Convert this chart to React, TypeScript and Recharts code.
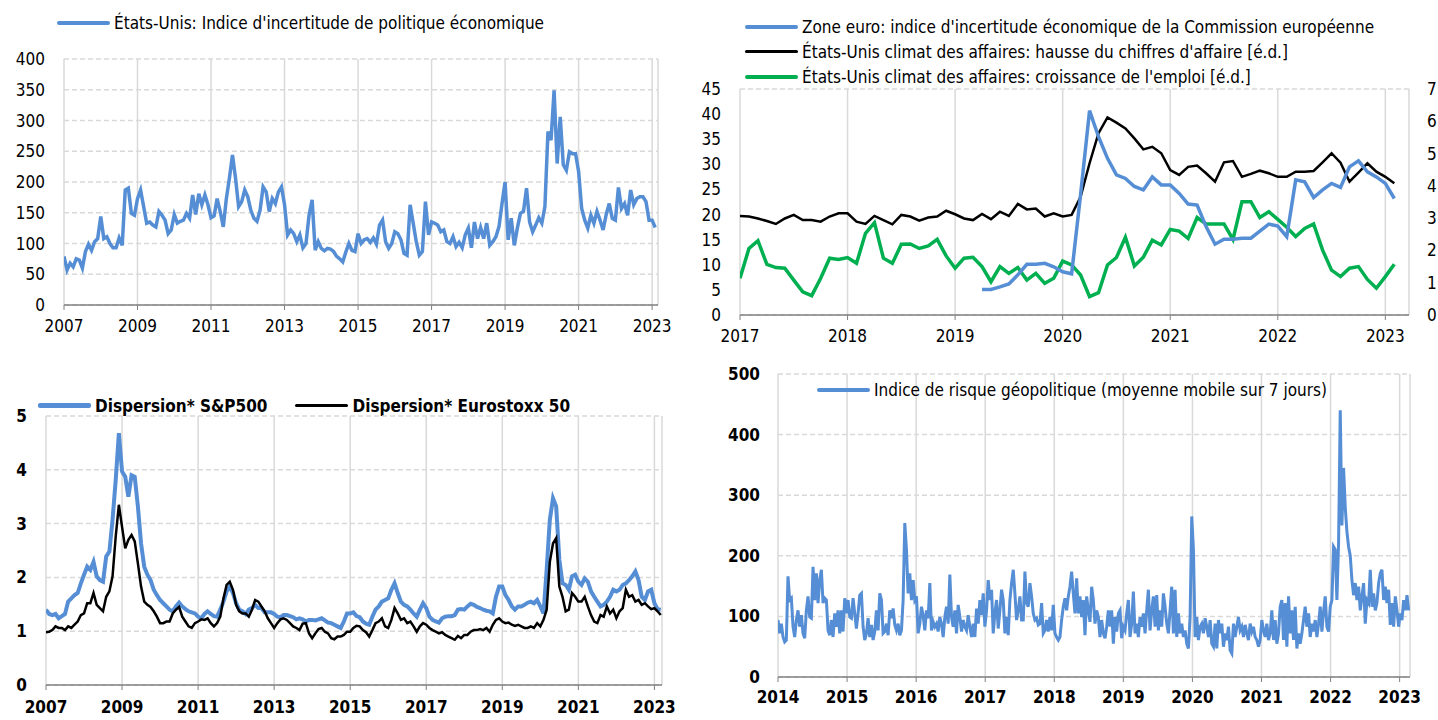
import React from 'react'
import { LineChart, Line, XAxis, YAxis, CartesianGrid } from 'recharts'

const FONT = '"Liberation Sans Narrow", "Arial Narrow", "DejaVu Sans Condensed", sans-serif'
const BLUE = '#558ED5'
const GREEN = '#00B050'
const GRID = '#D9D9D9'
const AXIS = '#808080'

// ---- top left: US economic policy uncertainty, monthly from Jan 2007
const epuValues = [
  79, 57, 68, 62, 75, 73, 60, 87, 99, 89, 103, 108,
  144, 108, 111, 100, 93, 93, 109, 97, 187, 190, 149, 146,
  173, 187, 160, 133, 135, 130, 127, 152, 146, 138, 116, 122,
  147, 133, 136, 138, 149, 141, 179, 147, 181, 163, 179, 163,
  142, 145, 173, 152, 127, 173, 206, 244, 206, 160, 168, 187,
  176, 154, 141, 136, 154, 192, 184, 152, 173, 165, 184, 192,
  163, 114, 122, 116, 103, 114, 93, 100, 146, 171, 89, 103,
  92, 88, 92, 91, 87, 79, 75, 70, 86, 100, 89, 87,
  116, 100, 106, 108, 102, 109, 99, 130, 138, 103, 92, 100,
  119, 116, 106, 84, 81, 163, 133, 103, 81, 87, 168, 114,
  135, 133, 130, 119, 122, 103, 100, 111, 95, 102, 93, 114,
  125, 93, 135, 108, 126, 108, 133, 97, 103, 111, 127, 165,
  200, 106, 141, 97, 125, 149, 152, 190, 135, 119, 130, 142,
  133, 160, 282, 268, 349, 230, 306, 228, 219, 249, 246, 246,
  217, 157, 138, 125, 146, 133, 152, 138, 122, 147, 165, 141,
  138, 191, 157, 165, 146, 187, 163, 173, 176, 176, 168, 138,
  138, 126,
]
const epuTicksX = [2007, 2009, 2011, 2013, 2015, 2017, 2019, 2021, 2023]
const epuTicksY = [0, 50, 100, 150, 200, 250, 300, 350, 400]

// ---- top right: monthly from Jan 2017
const euStart = 27 // Apr 2019
const euUncertainty = [
  5.1, 5.1, 5.6, 6.2, 8.0, 10.1, 10.1, 10.3, 9.6, 8.6, 8.2, 24, 40.7,
  35.5, 31.2, 27.9, 27.2, 25.6, 24.9, 27.5, 25.9, 25.9, 24.2, 22.1, 21.9,
  17.6, 14.1, 15.1, 15.1, 15.3, 15.3, 16.7, 18.1, 17.7, 15.6, 26.9, 26.5,
  23.4, 24.9, 26.2, 25.4, 29.5, 30.7, 28.5, 27.5, 26.2, 23.2,
]
const usTurnover = [
  3.07, 3.05, 2.99, 2.91, 2.82, 2.99, 3.10, 2.94, 2.94, 2.89, 3.05, 3.15,
  3.15, 2.89, 2.82, 3.07, 2.94, 2.81, 3.10, 3.05, 2.92, 3.02, 3.05, 3.23,
  3.12, 2.99, 2.94, 3.13, 2.97, 3.20, 3.07, 3.44, 3.27, 3.30, 3.05, 3.15,
  3.05, 3.10, 3.66, 4.70, 5.63, 6.12, 5.96, 5.78, 5.47, 5.13, 5.21, 5.01,
  4.49, 4.34, 4.59, 4.63, 4.39, 4.13, 4.73, 4.77, 4.28, 4.37, 4.47, 4.39,
  4.28, 4.28, 4.44, 4.44, 4.46, 4.73, 5.01, 4.72, 4.13, 4.41, 4.70, 4.44,
  4.28, 4.08,
]
const usEmployment = [
  1.14, 2.06, 2.30, 1.57, 1.47, 1.45, 1.08, 0.72, 0.60, 1.14, 1.76, 1.72,
  1.78, 1.60, 2.53, 2.86, 1.76, 1.60, 2.19, 2.20, 2.06, 2.14, 2.34, 1.83,
  1.45, 1.76, 1.79, 1.50, 1.03, 1.50, 1.29, 1.47, 1.08, 1.29, 0.98, 1.14,
  1.67, 1.55, 1.24, 0.57, 0.69, 1.55, 1.78, 2.41, 1.52, 1.79, 2.32, 2.17,
  2.65, 2.60, 2.37, 3.02, 2.82, 2.82, 2.82, 2.34, 3.51, 3.51, 3.02, 3.20,
  2.96, 2.72, 2.43, 2.68, 2.82, 2.01, 1.39, 1.19, 1.45, 1.50, 1.10, 0.83,
  1.19, 1.57,
]
const bizTicksX = [2017, 2018, 2019, 2020, 2021, 2022, 2023]
const bizTicksLeft = [0, 5, 10, 15, 20, 25, 30, 35, 40, 45]
const bizTicksRight = [0, 1, 2, 3, 4, 5, 6, 7]

// ---- bottom left: dispersion, monthly from Jan 2007
const dispSP500 = [
  1.40, 1.32, 1.30, 1.32, 1.24, 1.28, 1.32, 1.55, 1.61, 1.67, 1.71, 1.89,
  2.05, 2.20, 2.14, 2.29, 2.02, 1.95, 1.92, 2.39, 2.48, 3.07, 3.81, 4.68,
  3.97, 3.87, 3.50, 3.90, 3.87, 3.32, 2.63, 2.20, 2.05, 1.95, 1.77, 1.67,
  1.58, 1.52, 1.46, 1.40, 1.37, 1.46, 1.53, 1.46, 1.41, 1.37, 1.35, 1.33,
  1.27, 1.24, 1.32, 1.37, 1.32, 1.28, 1.27, 1.40, 1.55, 1.74, 1.83, 1.71,
  1.52, 1.40, 1.37, 1.32, 1.40, 1.43, 1.49, 1.43, 1.43, 1.35, 1.35, 1.35,
  1.32, 1.27, 1.26, 1.30, 1.30, 1.28, 1.26, 1.22, 1.24, 1.22, 1.18, 1.21,
  1.21, 1.20, 1.22, 1.24, 1.20, 1.16, 1.15, 1.12, 1.09, 1.06, 1.18, 1.33,
  1.33, 1.35, 1.28, 1.26, 1.18, 1.14, 1.12, 1.27, 1.40, 1.46, 1.55, 1.58,
  1.61, 1.77, 1.89, 1.71, 1.55, 1.49, 1.46, 1.40, 1.33, 1.27, 1.40, 1.52,
  1.43, 1.27, 1.21, 1.18, 1.16, 1.24, 1.27, 1.28, 1.28, 1.30, 1.40, 1.41,
  1.40, 1.46, 1.51, 1.49, 1.45, 1.43, 1.40, 1.38, 1.37, 1.33, 1.64, 1.83,
  1.83, 1.67, 1.58, 1.46, 1.40, 1.46, 1.46, 1.49, 1.53, 1.55, 1.52, 1.58,
  1.46, 1.33, 2.14, 3.07, 3.47, 3.32, 2.33, 1.89, 1.86, 1.77, 2.02, 2.05,
  1.92, 1.86, 1.98, 1.92, 1.74, 1.64, 1.55, 1.46, 1.49, 1.55, 1.64, 1.77,
  1.74, 1.77, 1.86, 1.89, 1.95, 2.02, 2.11, 1.95, 1.64, 1.58, 1.74, 1.77,
  1.52, 1.41, 1.40,
]
const dispStoxx50 = [
  0.98, 0.99, 1.02, 1.09, 1.06, 1.06, 1.02, 1.09, 1.06, 1.12, 1.18, 1.30,
  1.33, 1.52, 1.52, 1.71, 1.49, 1.43, 1.37, 1.64, 1.74, 2.02, 2.76, 3.35,
  2.94, 2.54, 2.70, 2.79, 2.67, 2.26, 1.83, 1.55, 1.49, 1.45, 1.37, 1.27,
  1.15, 1.15, 1.18, 1.18, 1.33, 1.40, 1.45, 1.27, 1.18, 1.09, 1.06, 1.15,
  1.18, 1.22, 1.21, 1.24, 1.15, 1.09, 1.15, 1.27, 1.61, 1.86, 1.92, 1.77,
  1.49, 1.37, 1.33, 1.33, 1.27, 1.40, 1.58, 1.55, 1.46, 1.37, 1.24, 1.15,
  1.06, 1.15, 1.22, 1.24, 1.21, 1.15, 1.09, 1.06, 1.02, 1.14, 1.15, 0.96,
  0.87, 0.96, 1.04, 1.06, 0.99, 0.96, 0.87, 0.85, 0.90, 0.90, 0.93, 0.99,
  0.99, 1.06, 1.10, 1.09, 1.02, 0.98, 0.90, 1.02, 1.15, 1.18, 1.24, 1.09,
  1.06, 1.21, 1.43, 1.33, 1.21, 1.24, 1.15, 1.18, 1.09, 0.99, 1.09, 1.15,
  1.12, 1.06, 1.02, 0.99, 0.96, 0.98, 0.93, 0.90, 0.87, 0.84, 0.91, 0.87,
  0.93, 0.93, 0.99, 1.02, 1.02, 1.04, 1.02, 1.06, 0.99, 1.12, 1.21, 1.24,
  1.18, 1.15, 1.16, 1.12, 1.10, 1.12, 1.09, 1.06, 1.06, 1.09, 1.06, 1.15,
  1.09, 1.21, 1.40, 2.29, 2.63, 2.73, 1.83, 1.64, 1.37, 1.40, 1.71, 1.64,
  1.55, 1.55, 1.64, 1.46, 1.30, 1.18, 1.15, 1.30, 1.27, 1.46, 1.33, 1.40,
  1.24, 1.37, 1.43, 1.77, 1.64, 1.67, 1.55, 1.58, 1.49, 1.52, 1.46, 1.41,
  1.43, 1.37, 1.30,
]
const dispTicksY = [0, 1, 2, 3, 4, 5]

// ---- bottom right: geopolitical risk index, sampled about every 9 days from Jan 2014
const gprStep = 5 / 207
const gprValues = [
  94, 72, 88, 66, 58, 61, 166, 127, 130, 83, 66, 94, 110, 83, 102, 72, 64, 110, 133, 99,
  97, 182, 127, 171, 122, 160, 177, 122, 130, 127, 77, 69, 94, 66, 105, 83, 110, 72, 110, 75,
  130, 105, 127, 99, 97, 130, 105, 80, 105, 135, 138, 83, 61, 72, 97, 66, 86, 61, 75, 110,
  77, 138, 127, 72, 75, 88, 69, 110, 97, 113, 86, 77, 88, 69, 77, 127, 254, 210, 138, 171, 127, 160,
  127, 133, 72, 88, 116, 102, 77, 110, 97, 155, 77, 91, 83, 88, 75, 99, 88, 66, 99, 116,
  88, 169, 99, 83, 110, 72, 119, 99, 75, 94, 83, 77, 102, 83, 66, 88, 66, 113, 88, 127, 102, 138,
  83, 110, 160, 127, 144, 72, 105, 127, 80, 110, 144, 127, 72, 99, 69, 127, 155, 177, 138, 94,
  110, 133, 94, 94, 174, 122, 116, 155, 133, 105, 94, 97, 86, 88, 122, 72, 77, 94, 75, 99, 77,
  119, 72, 66, 61, 66, 94, 116, 130, 110, 133, 149, 174, 138, 105, 163, 105, 133, 99, 127, 69,
  133, 110, 91, 149, 127, 88, 110,
  99, 66, 94, 72, 64, 83, 110, 83, 110, 55, 99, 75, 105, 110, 64, 83, 77, 105, 127, 66,
  88, 141, 72, 88, 66, 99, 83, 105, 72, 110, 144, 77, 110, 133, 83, 135, 77, 110, 83, 138,
  116, 88, 72, 110, 149, 72, 144, 66, 105, 72, 88, 66, 77, 55, 47, 99, 265, 210, 66, 99,
  61, 83, 88, 72, 97, 83, 66, 94, 55, 50, 88, 47, 94, 72, 88, 50, 72, 61, 83, 44,
  39, 88, 66, 83, 99, 77, 83, 66, 86, 72, 61, 88, 75, 83, 66, 61, 50, 61, 94, 77,
  66, 88, 61, 72, 110, 61, 94, 55, 72, 116, 127, 61, 122, 50, 133, 72, 110, 61, 116, 47,
  72, 55, 72, 94, 116, 83, 105, 66, 88, 75, 94, 66, 88, 116, 75, 108, 133, 83, 75, 116,
  127, 215, 210, 127, 221, 440, 250, 345, 280, 240, 215, 200, 160, 135,
  155, 127, 149, 110, 133, 155, 88, 127, 122, 177, 116, 138, 110, 122, 155, 171, 177, 127, 149, 122,
  144, 86, 122, 83, 133, 110, 83, 105, 94, 127, 110, 135, 110,
]
const gprTicksX = [2014, 2015, 2016, 2017, 2018, 2019, 2020, 2021, 2022, 2023]
const gprTicksY = [0, 100, 200, 300, 400, 500]

const epuData = epuValues.map((v, i) => ({ t: 2007 + i / 12, v }))
const bizData = usTurnover.map((ca, i) => ({
  t: 2017 + i / 12,
  ca,
  emp: usEmployment[i],
  eu: i >= euStart ? euUncertainty[i - euStart] : null,
}))
const dispData = dispSP500.map((sp, i) => ({ t: 2007 + i / 12, sp, sx: dispStoxx50[i] }))
const gprData = gprValues.map((v, i) => ({ t: 2014 + i * gprStep, v }))

type Item = { label: string; color: string; width: number }

function LegendBox({ items, bold, gap, left, top }: { items: Item[]; bold?: boolean; gap?: number; left: number; top: number }) {
  return (
    <div style={{ position: 'absolute', left, top, display: 'flex', flexDirection: gap ? 'row' : 'column', fontFamily: FONT, fontSize: 17, fontWeight: bold ? 700 : 400, color: '#000' }}>
      {items.map((it) => (
        <div key={it.label} style={{ display: 'flex', alignItems: 'center', height: 25, marginRight: gap ?? 0, whiteSpace: 'nowrap' }}>
          <span style={{ display: 'inline-block', width: 53, height: it.width, background: it.color, borderRadius: 2, marginRight: 4 }} />
          <span>{it.label}</span>
        </div>
      ))}
    </div>
  )
}

const tickStyle = (bold: boolean) => ({ fill: '#000', fontSize: 17, fontFamily: FONT, fontWeight: bold ? 700 : 400 })

function Grid() {
  return (
    <>
      <CartesianGrid horizontal={false} stroke={GRID} strokeWidth={1.5} />
      <CartesianGrid vertical={false} stroke={GRID} strokeWidth={1.5} strokeDasharray="5 3" />
    </>
  )
}

function xAxisFor(domain: number[], ticks: number[], bold: boolean, margin: number) {
  return (
    <XAxis type="number" dataKey="t" domain={domain} ticks={ticks} interval={0} allowDataOverflow height={30}
      axisLine={{ stroke: AXIS, strokeWidth: 1.5 }} tickLine={{ stroke: AXIS }} tickSize={5} tickMargin={margin} tick={tickStyle(bold)} />
  )
}

function PolicyUncertainty() {
  return (
    <div style={{ position: 'absolute', left: 0, top: 0 }}>
      <LegendBox left={57} top={10} items={[{ label: "États-Unis: Indice d'incertitude de politique économique", color: BLUE, width: 4 }]} />
      <LineChart width={680} height={350} data={epuData} margin={{ top: 59, right: 22, bottom: 15, left: 0 }}>
        {Grid()}
        {xAxisFor([2007, 2023.16], epuTicksX, false, 10)}
        <YAxis domain={[0, 400]} ticks={epuTicksY} interval={0} width={64} axisLine={false} tickLine={false} tickMargin={13} tick={tickStyle(false)} />
        <Line type="linear" dataKey="v" stroke={BLUE} strokeWidth={3.5} dot={false} isAnimationActive={false} />
      </LineChart>
    </div>
  )
}

function BusinessClimate() {
  return (
    <div style={{ position: 'absolute', left: 700, top: 0 }}>
      <LegendBox left={45} top={14} items={[
        { label: "Zone euro: indice d'incertitude économique de la Commission européenne", color: BLUE, width: 4 },
        { label: "États-Unis climat des affaires: hausse du chiffres d'affaire [é.d.]", color: '#000', width: 3 },
        { label: "États-Unis climat des affaires: croissance de l'emploi [é.d.]", color: GREEN, width: 4 },
      ]} />
      <LineChart width={738} height={350} data={bizData} margin={{ top: 89, right: 5, bottom: 5, left: 0 }}>
        {Grid()}
        {xAxisFor([2017, 2023.22], bizTicksX, false, 10)}
        <YAxis yAxisId="left" domain={[0, 45]} ticks={bizTicksLeft} interval={0} width={40} axisLine={false} tickLine={false} tickMargin={13} tick={tickStyle(false)} />
        <YAxis yAxisId="right" orientation="right" domain={[0, 7]} ticks={bizTicksRight} interval={0} width={24} axisLine={false} tickLine={false} tickMargin={12} tick={tickStyle(false)} />
        <Line yAxisId="right" type="linear" dataKey="ca" stroke="#000" strokeWidth={2.5} dot={false} isAnimationActive={false} />
        <Line yAxisId="right" type="linear" dataKey="emp" stroke={GREEN} strokeWidth={3.5} dot={false} isAnimationActive={false} />
        <Line yAxisId="left" type="linear" dataKey="eu" stroke={BLUE} strokeWidth={3.5} dot={false} isAnimationActive={false} />
      </LineChart>
    </div>
  )
}

function Dispersion() {
  return (
    <div style={{ position: 'absolute', left: 0, top: 360 }}>
      <LegendBox bold gap={28} left={38} top={33} items={[
        { label: 'Dispersion* S&P500', color: BLUE, width: 5 },
        { label: 'Dispersion* Eurostoxx 50', color: '#000', width: 3 },
      ]} />
      <LineChart width={680} height={360} data={dispData} margin={{ top: 56, right: 18, bottom: 5, left: 0 }}>
        {Grid()}
        {xAxisFor([2007, 2023.2], epuTicksX, true, 11)}
        <YAxis domain={[0, 5]} ticks={dispTicksY} interval={0} width={46} axisLine={false} tickLine={false} tickMargin={13} tick={tickStyle(true)} />
        <Line type="linear" dataKey="sp" stroke={BLUE} strokeWidth={4} dot={false} isAnimationActive={false} />
        <Line type="linear" dataKey="sx" stroke="#000" strokeWidth={2.5} dot={false} isAnimationActive={false} />
      </LineChart>
    </div>
  )
}

function GeopoliticalRisk() {
  return (
    <div style={{ position: 'absolute', left: 700, top: 360 }}>
      <LineChart width={738} height={360} data={gprData} margin={{ top: 14, right: 28, bottom: 13, left: 0 }}>
        {Grid()}
        {xAxisFor([2014, 2023.15], gprTicksX, true, 9)}
        <YAxis domain={[0, 500]} ticks={gprTicksY} interval={0} width={78} axisLine={false} tickLine={false} tickMargin={12} tick={tickStyle(true)} />
        <Line type="linear" dataKey="v" stroke={BLUE} strokeWidth={3} dot={false} isAnimationActive={false} />
      </LineChart>
      <LegendBox left={117} top={17} items={[{ label: 'Indice de risque géopolitique (moyenne mobile sur 7 jours)', color: BLUE, width: 4 }]} />
    </div>
  )
}

export default function App() {
  return (
    <div style={{ position: 'absolute', left: 0, top: 0, width: 1438, height: 720, background: '#fff', overflow: 'hidden' }}>
      <PolicyUncertainty />
      <BusinessClimate />
      <Dispersion />
      <GeopoliticalRisk />
    </div>
  )
}
